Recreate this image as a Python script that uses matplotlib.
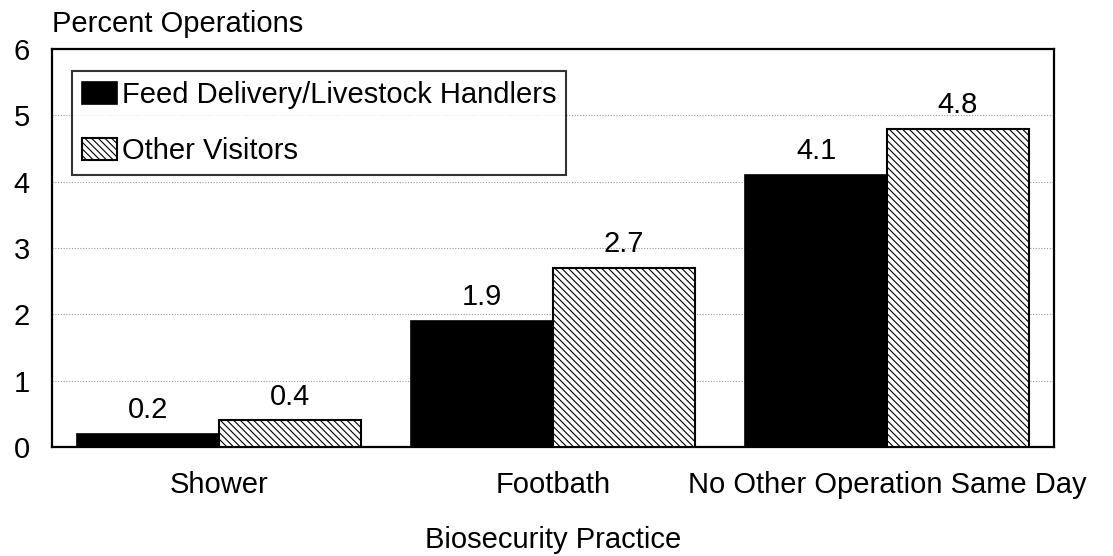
import matplotlib
matplotlib.use("Agg")
import matplotlib.pyplot as plt
import numpy as np

categories = ["Shower", "Footbath", "No Other Operation Same Day"]
series_names = ["Feed Delivery/Livestock Handlers", "Other Visitors"]
feed_values = [0.2, 1.9, 4.1]
other_values = [0.4, 2.7, 4.8]
yticks = [0, 1, 2, 3, 4, 5, 6]

plt.rcParams['font.family'] = ['Liberation Sans', 'DejaVu Sans']
plt.rcParams['hatch.linewidth'] = 0.8

FS = 21

fig = plt.figure(figsize=(11.13, 5.56), dpi=100)
ax = fig.add_axes([52/1113, 1 - 447/556, 1002/1113, 398/556])

x = np.arange(len(categories))
w = 0.425
b1 = ax.bar(x, feed_values, width=-w, align='edge', color='black', edgecolor='black',
            linewidth=1.2, label=series_names[0], zorder=3)
b2 = ax.bar(x, other_values, width=w, align='edge', color='white', edgecolor='black',
            hatch='\\\\\\\\\\', linewidth=1.5, label=series_names[1], zorder=3)

for bars, vals in ((b1, feed_values), (b2, other_values)):
    for r, v in zip(bars, vals):
        ax.annotate(f"{v}", (r.get_x() + r.get_width() / 2, v), xytext=(0, 7),
                    textcoords='offset points', ha='center', va='bottom', fontsize=FS)

ax.set_xlim(-0.5, 2.5)
ax.set_ylim(0, 6)
ax.set_yticks(yticks)
ax.set_xticks(x)
ax.set_xticklabels(categories, fontsize=FS)
ax.tick_params(axis='both', length=0, labelsize=FS)
ax.tick_params(axis='y', pad=16)
ax.tick_params(axis='x', pad=17)
ax.yaxis.grid(True, linestyle=(0, (1, 1.5)), color='#999999', linewidth=0.8, zorder=0)
ax.set_axisbelow(True)
for s in ax.spines.values():
    s.set_linewidth(1.6)

ax.set_xlabel("Biosecurity Practice", fontsize=FS, labelpad=20)
fig.text(52/1113, 1 - 24/556, "Percent Operations", fontsize=FS, ha='left', va='center')

leg = ax.legend(loc='upper left', bbox_to_anchor=(0.02, 0.945), fontsize=FS,
                frameon=True, fancybox=False, edgecolor='black', borderpad=0.35,
                handlelength=1.2, handleheight=0.8, handletextpad=0.15, labelspacing=0.95,
                borderaxespad=0)
leg.get_frame().set_linewidth(1.5)

fig.savefig("out.png", dpi=100)
